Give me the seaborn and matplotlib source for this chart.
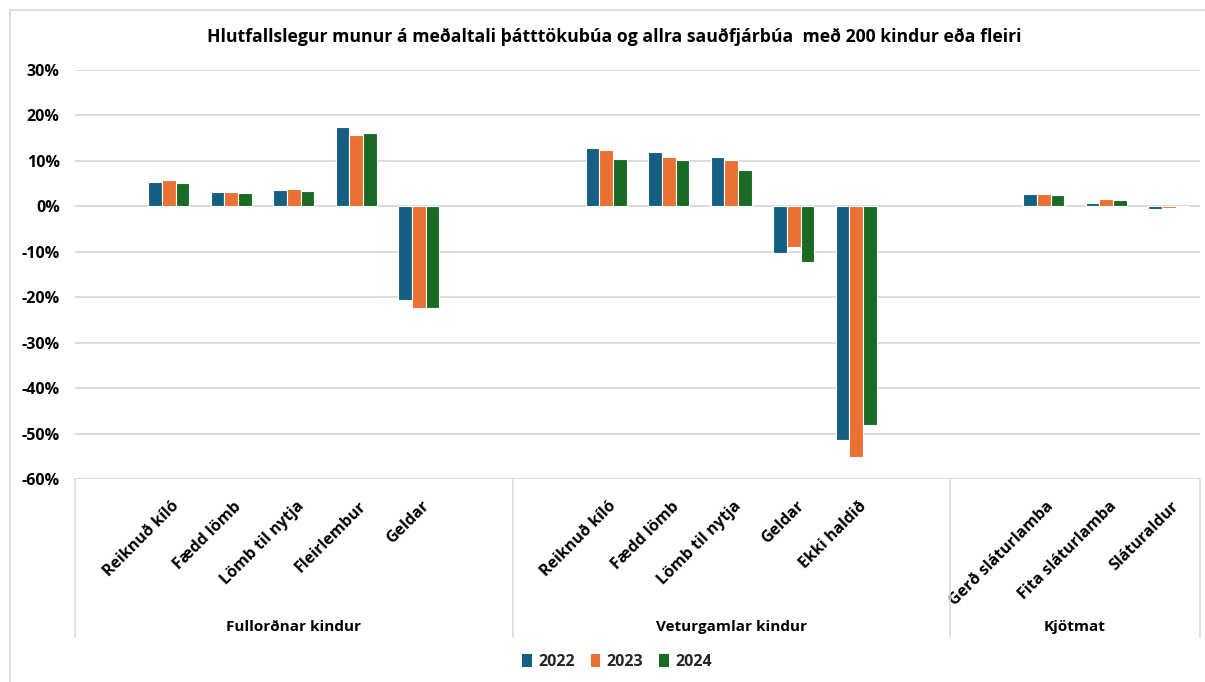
import matplotlib
matplotlib.use("Agg")
import matplotlib.pyplot as plt
import matplotlib.transforms as mtransforms
from matplotlib.patches import Patch
import seaborn as sns
import pandas as pd
import numpy as np

# ---------------- data ----------------
groups = ["Fullorðnar kindur", "Veturgamlar kindur", "Kjötmat"]
cats_g1 = ["Reiknuð kíló", "Fædd lömb", "Lömb til nytja", "Fleirlembur", "Geldar"]
cats_g2 = ["Reiknuð kíló", "Fædd lömb", "Lömb til nytja", "Geldar", "Ekki haldið"]
cats_g3 = ["Gerð sláturlamba", "Fita sláturlamba", "Sláturaldur"]
years = ["2022", "2023", "2024"]

v2022 = [5.4, 3.1, 3.7, 17.5, -20.7, 12.8, 12.0, 10.8, -10.3, -51.5, 2.7, 0.7, -0.5]
v2023 = [5.8, 3.1, 3.9, 15.6, -22.3, 12.3, 10.9, 10.1, -8.9, -55.1, 2.7, 1.6, -0.4]
v2024 = [5.1, 3.0, 3.4, 16.2, -22.3, 10.4, 10.3, 8.0, -12.2, -48.2, 2.4, 1.5, 0.0]

colors = ["#156082", "#E97132", "#196B24"]

# slot layout: each group has a blank slot before, groups 1-2 a blank slot after
slots = []          # (key, label)
group_spans = []
all_keys = []
for gi, cats in enumerate([cats_g1, cats_g2, cats_g3]):
    start = len(slots)
    slots.append((f"blank{gi}a", ""))
    for c in cats:
        key = f"{gi}_{c}"
        slots.append((key, c))
        all_keys.append(key)
    if gi < 2:
        slots.append((f"blank{gi}b", ""))
    group_spans.append((start - 0.5, len(slots) - 0.5))

order = [s[0] for s in slots]
rows = []
for y, vals in zip(years, [v2022, v2023, v2024]):
    for k, v in zip(all_keys, vals):
        rows.append({"slot": k, "year": y, "value": v / 100.0})
df = pd.DataFrame(rows)

# ---------------- plot ----------------
sns.set_theme(style="white")
fam = ["Open Sans", "DejaVu Sans"]
plt.rcParams["font.family"] = fam

W, H = 1205, 682
fig = plt.figure(figsize=(W / 100, H / 100), dpi=100)
ax = fig.add_axes([75 / W, 1 - 479 / H, (1200 - 75) / W, (479 - 70) / H])

sns.barplot(data=df, x="slot", y="value", hue="year", order=order,
            hue_order=years, palette=colors, width=0.66, ax=ax,
            edgecolor="white", linewidth=0.8, legend=False, saturation=1)

ax.set_ylim(-0.6, 0.3)
ax.set_xlim(-0.5, len(order) - 0.5)
yt = np.arange(-0.6, 0.31, 0.1)
ax.set_yticks(yt)
ax.set_yticklabels([f"{int(round(t*100))}%" for t in yt], fontsize=11.5,
                   fontweight="bold", color="#000000")
ax.tick_params(axis="y", length=0, pad=11)
ax.yaxis.grid(True, color="#D9D9D9", linewidth=1.3)
ax.set_axisbelow(True)
for s in ax.spines.values():
    s.set_visible(False)
ax.set_xlabel("")
ax.set_ylabel("")

ax.set_xticks(range(len(order)))
ax.set_xticklabels([s[1] for s in slots], rotation=45, ha="right",
                   rotation_mode="anchor", fontsize=11.5, fontweight="bold",
                   color="#000000")
ax.tick_params(axis="x", length=0, pad=14)
for lbl in ax.get_xticklabels():
    lbl.set_transform(lbl.get_transform() + mtransforms.ScaledTranslation(2 / 100, 0, fig.dpi_scale_trans))

# group separators and labels
trans = mtransforms.blended_transform_factory(ax.transData, ax.transAxes)
ybot = -(637 - 479) / (479 - 70)
ylab = -(627 - 479) / (479 - 70)
bounds = [-0.5, group_spans[0][1], group_spans[1][1], len(order) - 0.5]
for b in bounds:
    ax.plot([b, b], [0, ybot], transform=trans, color="#D9D9D9",
            linewidth=1.2, clip_on=False)
for g, (a, b) in zip(groups, group_spans):
    ax.text((a + b) / 2, ylab, g, transform=trans, ha="center", va="center",
            fontsize=11, fontweight="bold", color="#000000")

fig.text(614 / W, 1 - 37 / H,
         "Hlutfallslegur munur á meðaltali þátttökubúa og allra sauðfjárbúa  með 200 kindur eða fleiri",
         ha="center", va="center", fontsize=12.7, fontweight="bold", color="#000000")

handles = [Patch(facecolor=c, edgecolor="none") for c in colors]
fig.legend(handles, years, loc="center", bbox_to_anchor=(617 / W, 1 - 662 / H),
           ncol=3, frameon=False, handlelength=0.6, handleheight=0.9,
           handletextpad=0.4, columnspacing=1.0,
           prop={"weight": "bold", "size": 11.5, "family": fam})

# light outer border (top-left visible in reference)
fig.add_artist(plt.Line2D([10 / W, 10 / W], [0, 1 - 10 / H], transform=fig.transFigure,
                          color="#D9D9D9", linewidth=1.2))
fig.add_artist(plt.Line2D([10 / W, 1], [1 - 10 / H, 1 - 10 / H], transform=fig.transFigure,
                          color="#D9D9D9", linewidth=1.2))

fig.savefig("out.png", dpi=100, facecolor="white")
